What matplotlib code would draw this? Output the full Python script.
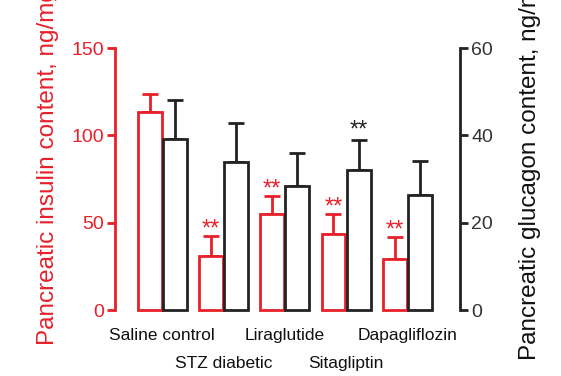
import numpy as np
import matplotlib
matplotlib.use("Agg")
import matplotlib.pyplot as plt
from matplotlib.transforms import blended_transform_factory

plt.rcParams["font.family"] = ["Liberation Sans", "DejaVu Sans"]

# data
groups = ["Saline control", "STZ diabetic", "Liraglutide", "Sitagliptin", "Dapagliflozin"]
insulin = [113.5, 31, 55, 43.5, 29]
insulin_err = [10, 11.5, 10.5, 11.5, 13]
glucagon = [39.2, 34, 28.4, 32, 26.4]
glucagon_err = [8.9, 8.8, 7.5, 7, 7.7]
insulin_sig = ["", "**", "**", "**", "**"]
glucagon_sig = ["", "", "", "**", ""]

RED = "#e8202a"
DARK = "#222222"

fig = plt.figure(figsize=(5.61, 3.76), dpi=100)
ax = fig.add_axes([0.205, 0.1755, 0.615, 0.6965])
ax2 = ax.twinx()

x = np.arange(len(groups))
w = 0.39
off = 0.205

ax.bar(x - off, insulin, width=w, facecolor="white", edgecolor=RED, linewidth=2, clip_on=False, zorder=3)
ax.errorbar(x - off, insulin, yerr=[np.zeros(len(x)), insulin_err], fmt="none",
            ecolor=RED, elinewidth=2, capsize=6, capthick=2, zorder=2, clip_on=False)
ax2.bar(x + off, glucagon, width=w, facecolor="white", edgecolor=DARK, linewidth=2, clip_on=False, zorder=3)
ax2.errorbar(x + off, glucagon, yerr=[np.zeros(len(x)), glucagon_err], fmt="none",
             ecolor=DARK, elinewidth=2, capsize=6, capthick=2, zorder=2, clip_on=False)

# significance stars
for i in range(len(x)):
    if insulin_sig[i]:
        ax.annotate(insulin_sig[i], (x[i] - off, insulin[i] + insulin_err[i]),
                    xytext=(0, -3.5), textcoords="offset points",
                    color=RED, ha="center", va="bottom", fontsize=17)
    if glucagon_sig[i]:
        ax2.annotate(glucagon_sig[i], (x[i] + off, glucagon[i] + glucagon_err[i]),
                     xytext=(0, -1), textcoords="offset points",
                     color=DARK, ha="center", va="bottom", fontsize=17)

ax.set_xlim(-0.77, 4.86)
ax.set_ylim(0, 150)
ax2.set_ylim(0, 60)

for a in (ax, ax2):
    a.spines["top"].set_visible(False)
    a.spines["bottom"].set_visible(False)
    a.set_xticks([])
    a.patch.set_visible(False)
ax.spines["right"].set_visible(False)
ax2.spines["left"].set_visible(False)

ax.spines["left"].set_color(RED)
ax.spines["left"].set_linewidth(2)
ax.set_yticks([0, 50, 100, 150])
ax.tick_params(axis="y", colors=RED, width=2, length=6, labelsize=14, pad=2)

ax2.spines["right"].set_color(DARK)
ax2.spines["right"].set_linewidth(2)
ax2.set_yticks([0, 20, 40, 60])
ax2.tick_params(axis="y", colors=DARK, width=2, length=6, labelsize=14, pad=2)
for t in ax2.get_yticklabels():
    t.set_color("#333333")

# staggered group labels
trans = blended_transform_factory(ax.transData, ax.transAxes)
for i, g in enumerate(groups):
    yy = -0.099 if i % 2 == 0 else -0.206
    ax.text(x[i], yy, g, transform=trans, ha="center", va="center", fontsize=12.5, color="#111111")

fig.text(0.086, 0.082, "Pancreatic insulin content, ng/mg", rotation=90,
         ha="center", va="bottom", color=RED, fontsize=17.5)
fig.text(0.945, 0.043, "Pancreatic glucagon content, ng/mg", rotation=90,
         ha="center", va="bottom", color="#111111", fontsize=17.5)

fig.savefig("out.png", dpi=100)
